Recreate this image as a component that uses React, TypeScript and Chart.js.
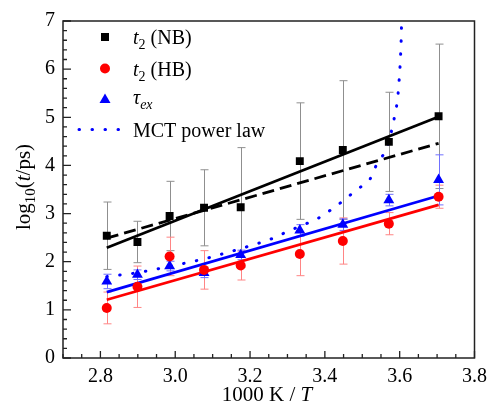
import React, { useEffect, useRef } from "react";
import { Chart, registerables } from "chart.js";

Chart.register(...registerables);

// ---- data ----
const xVals = [2.817, 2.899, 2.985, 3.077, 3.175, 3.333, 3.448, 3.571, 3.704];
const nbVals = [2.54, 2.41, 2.95, 3.12, 3.13, 4.09, 4.32, 4.49, 5.02];
const nbErr = [0.7, 0.43, 0.72, 0.79, 1.24, 1.21, 1.44, 1.03, 1.5];
const hbVals = [1.04, 1.48, 2.11, 1.83, 1.92, 2.16, 2.43, 2.79, 3.35];
const hbErr = [0.33, 0.43, 0.4, 0.4, 0.3, 0.45, 0.48, 0.23, 0.24];
const tauVals = [1.59, 1.73, 1.91, 1.77, 2.14, 2.65, 2.77, 3.28, 3.7];
const tauErr = [0.15, 0.1, 0.1, 0.1, 0.1, 0.12, 0.12, 0.12, 0.52];

const fitX = [2.817, 3.704];
const nbFitY = [2.29, 5.01];
const nbFit2Y = [2.49, 4.46];
const hbFitY = [1.21, 3.18];
const tauFitY = [1.37, 3.37];

const mctX = [2.817, 2.9, 2.985, 3.08, 3.175, 3.25, 3.31, 3.378, 3.404, 3.435, 3.462, 3.492, 3.52, 3.536, 3.556, 3.572, 3.58, 3.587, 3.594, 3.597, 3.6, 3.602, 3.604, 3.606];
const mctY = [1.69, 1.77, 1.9, 2.06, 2.27, 2.45, 2.66, 2.88, 3.01, 3.18, 3.35, 3.53, 3.7, 3.98, 4.22, 4.5, 4.78, 5.04, 5.33, 5.61, 5.92, 6.2, 6.6, 7.3];

const xTicks = [2.8, 3.0, 3.2, 3.4, 3.6, 3.8];
const yTicks = [0, 1, 2, 3, 4, 5, 6, 7];

const FONT = "'Liberation Serif', 'Times New Roman', Times, serif";

const pts = (xs: number[], ys: number[]) => xs.map((x, i) => ({ x, y: ys[i] }));

const customPlugin = {
  id: "custom",
  beforeDatasetsDraw(chart: any) {
    const ctx = chart.ctx;
    const xs = chart.scales.x;
    const ys = chart.scales.y;
    const bars = [
      { v: nbVals, e: nbErr, c: "#8f8f8f" },
      { v: hbVals, e: hbErr, c: "#ff8585" },
      { v: tauVals, e: tauErr, c: "#7070ff" },
    ];
    ctx.save();
    ctx.lineWidth = 1;
    bars.forEach((b) => {
      ctx.strokeStyle = b.c;
      xVals.forEach((xv, i) => {
        const px = Math.round(xs.getPixelForValue(xv)) + 0.5;
        const top = ys.getPixelForValue(b.v[i] + b.e[i]);
        const bot = ys.getPixelForValue(b.v[i] - b.e[i]);
        ctx.beginPath();
        ctx.moveTo(px, top);
        ctx.lineTo(px, bot);
        ctx.moveTo(px - 4, top);
        ctx.lineTo(px + 4, top);
        ctx.moveTo(px - 4, bot);
        ctx.lineTo(px + 4, bot);
        ctx.stroke();
      });
    });
    ctx.restore();
  },
  afterDraw(chart: any) {
    const ctx = chart.ctx;
    const a = chart.chartArea;
    const xs = chart.scales.x;
    const ys = chart.scales.y;
    ctx.save();
    // frame
    ctx.strokeStyle = "#222";
    ctx.lineWidth = 1.5;
    ctx.strokeRect(a.left, a.top, a.right - a.left, a.bottom - a.top);
    // ticks
    ctx.lineWidth = 1.3;
    ctx.beginPath();
    for (let k = 0; k <= 22; k++) {
      const v = 2.7 + k * 0.05;
      const px = xs.getPixelForValue(v);
      const major = (k + 2) % 4 === 0;
      const len = major ? 7 : 4;
      ctx.moveTo(px, a.bottom);
      ctx.lineTo(px, a.bottom - len);
    }
    for (let k = 0; k <= 35; k++) {
      const v = k * 0.2;
      const py = ys.getPixelForValue(v);
      const major = k % 5 === 0;
      const len = major ? 8 : 4;
      ctx.moveTo(a.left, py);
      ctx.lineTo(a.left + len, py);
    }
    ctx.stroke();

    // legend
    ctx.fillStyle = "#000";
    ctx.fillRect(105 - 4, 37 - 4, 8, 8);
    ctx.fillStyle = "#ff0000";
    ctx.beginPath();
    ctx.arc(105, 68.5, 5, 0, Math.PI * 2);
    ctx.fill();
    ctx.fillStyle = "#0000ff";
    ctx.beginPath();
    ctx.moveTo(105, 93.5);
    ctx.lineTo(110.5, 103);
    ctx.lineTo(99.5, 103);
    ctx.closePath();
    ctx.fill();
    ctx.strokeStyle = "#0000ff";
    ctx.lineWidth = 3;
    ctx.lineCap = "round";
    ctx.setLineDash([0.5, 12.5]);
    ctx.beginPath();
    ctx.moveTo(79, 129.5);
    ctx.lineTo(125, 129.5);
    ctx.stroke();
    ctx.setLineDash([]);
    ctx.lineCap = "butt";

    ctx.fillStyle = "#000";
    ctx.textBaseline = "alphabetic";
    ctx.textAlign = "left";
    const drawRuns = (x: number, y: number, runs: { t: string; f: string; dy?: number }[]) => {
      let cx = x;
      runs.forEach((r) => {
        ctx.font = r.f;
        ctx.fillText(r.t, cx, y + (r.dy || 0));
        cx += ctx.measureText(r.t).width;
      });
      return cx - x;
    };
    const N = `20px ${FONT}`;
    const I = `italic 20px ${FONT}`;
    const S = `14px ${FONT}`;
    const SI = `italic 14px ${FONT}`;
    drawRuns(133, 44, [{ t: "t", f: I }, { t: "2", f: S, dy: 5 }, { t: " (NB)", f: N }]);
    drawRuns(133, 76, [{ t: "t", f: I }, { t: "2", f: S, dy: 5 }, { t: " (HB)", f: N }]);
    drawRuns(133, 104, [{ t: "τ", f: I }, { t: "ex", f: SI, dy: 5 }]);
    drawRuns(133, 137, [{ t: "MCT power law", f: N }]);

    // x title
    const TN = `21px ${FONT}`;
    const TI = `italic 21px ${FONT}`;
    const xRuns = [{ t: "1000 K / ", f: TN }, { t: "T", f: TI }];
    let w = 0;
    xRuns.forEach((r) => { ctx.font = r.f; w += ctx.measureText(r.t).width; });
    drawRuns(267 - w / 2, 401, xRuns);

    // y title
    const TS = `15px ${FONT}`;
    const yRuns = [
      { t: "log", f: TN },
      { t: "10", f: TS, dy: 5 },
      { t: "(", f: TN },
      { t: "t", f: TI },
      { t: "/ps)", f: TN },
    ];
    w = 0;
    yRuns.forEach((r) => { ctx.font = r.f; w += ctx.measureText(r.t).width; });
    ctx.translate(30, 187);
    ctx.rotate(-Math.PI / 2);
    drawRuns(-w / 2, 0, yRuns);
    ctx.restore();
  },
};

export default function App() {
  const ref = useRef<HTMLCanvasElement | null>(null);
  useEffect(() => {
    document.body.style.margin = "0";
    const canvas = ref.current!;
    const lineDs = (ys: number[], color: string, dash: number[] = []) => ({
      type: "scatter" as const,
      data: pts(fitX, ys),
      showLine: true,
      borderColor: color,
      borderWidth: 2.8,
      borderDash: dash,
      pointRadius: 0,
      order: 2,
    });
    const chart = new Chart(canvas, {
      type: "scatter",
      data: {
        datasets: [
          {
            data: pts(xVals, nbVals),
            pointStyle: "rect",
            pointRadius: 5.6,
            backgroundColor: "#000",
            borderColor: "#000",
            borderWidth: 0,
            order: 0,
          },
          {
            data: pts(xVals, hbVals),
            pointStyle: "circle",
            pointRadius: 5,
            backgroundColor: "#ff0000",
            borderColor: "#ff0000",
            borderWidth: 0,
            order: 0,
          },
          {
            data: pts(xVals, tauVals),
            pointStyle: "triangle",
            pointRadius: 6.3,
            backgroundColor: "#0000ff",
            borderColor: "#0000ff",
            borderWidth: 0,
            order: 0,
          },
          {
            data: pts(mctX, mctY),
            showLine: true,
            borderColor: "#0000ff",
            borderWidth: 3,
            borderDash: [0.5, 12.5],
            borderCapStyle: "round",
            pointRadius: 0,
            order: 1,
          },
          lineDs(nbFitY, "#000"),
          lineDs(nbFit2Y, "#000", [12, 6]),
          lineDs(hbFitY, "#ff0000"),
          lineDs(tauFitY, "#0000ff"),
        ] as any,
      },
      options: {
        animation: false,
        responsive: false,
        layout: { padding: { top: 21, right: 14, left: 0, bottom: 0 } },
        plugins: { legend: { display: false }, tooltip: { enabled: false } },
        scales: {
          x: {
            type: "linear",
            min: 2.7,
            max: 3.8,
            grid: { display: false, drawTicks: false },
            border: { display: false },
            afterBuildTicks: (s: any) => { s.ticks = xTicks.map((v) => ({ value: v })); },
            afterFit: (s: any) => { s.height = 46; },
            ticks: {
              padding: 7,
              color: "#000",
              font: { family: FONT, size: 20 },
              callback: (v: any) => Number(v).toFixed(1),
            },
          },
          y: {
            type: "linear",
            min: 0,
            max: 7,
            grid: { display: false, drawTicks: false },
            border: { display: false },
            afterBuildTicks: (s: any) => { s.ticks = yTicks.map((v) => ({ value: v })); },
            afterFit: (s: any) => { s.width = 63; },
            ticks: {
              padding: 8,
              color: "#000",
              font: { family: FONT, size: 20 },
              callback: (v: any) => String(v),
            },
          },
        },
      },
      plugins: [customPlugin],
    });
    let alive = true;
    const fs: any = (document as any).fonts;
    if (fs && fs.load) {
      Promise.all([
        fs.load("20px 'Liberation Serif'"),
        fs.load("italic 20px 'Liberation Serif'"),
      ]).then(() => { if (alive) chart.update(); }).catch(() => {});
    }
    return () => { alive = false; chart.destroy(); };
  }, []);
  return (
    <div style={{ width: 494, height: 404, background: "#fff" }}>
      <canvas ref={ref} width={494} height={404} />
    </div>
  );
}
